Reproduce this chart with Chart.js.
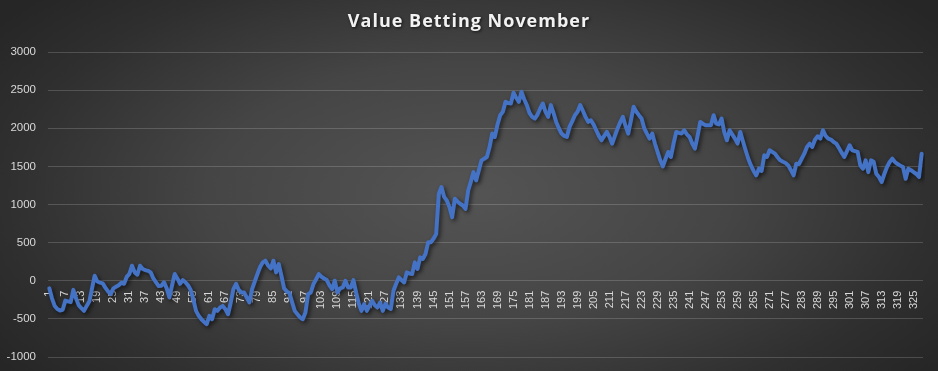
<!DOCTYPE html>
<html>
<head>
<meta charset="utf-8">
<script src="https://cdn.jsdelivr.net/npm/chart.js@4/dist/chart.umd.min.js"></script>
<style>
  html, body { margin: 0; padding: 0; }
  body {
    width: 938px; height: 371px; overflow: hidden;
    background: radial-gradient(ellipse 62% 78% at 50% 52%, #545454 0%, #454545 45%, #2f2f2f 80%, #262626 100%);
  }
  #wrap { position: relative; width: 938px; height: 371px; }
</style>
</head>
<body>
<div id="wrap"><canvas id="myChart"></canvas></div>
<script>
// bet number 1..328
const categories = Array.from({ length: 328 }, (_, i) => String(i + 1));

// running profit
const profit = [
  -100, -230, -330, -370, -390, -380, -260, -270, -280, -120,
  -230, -320, -360, -395, -330, -270, -100, 66, -10, -25,
  -35, -90, -140, -175, -100, -80, -60, -25, -40, 50,
  90, 197, 110, 80, 197, 154, 140, 130, 110, 30,
  -20, -70, -66, -20, -100, -220, -60, 88, 30, -40,
  9, -20, -60, -120, -250, -395, -460, -505, -540, -570,
  -460, -505, -373, -395, -350, -330, -373, -439, -285, -110,
  -40, -120, -154, -154, -220, -285, -110, -10, 88, 180,
  241, 263, 200, 160, 263, 110, 219, 66, -100, -140,
  -160, -280, -395, -440, -480, -505, -417, -175, -154, -44,
  20, 88, 53, 30, 9, -60, -110, 0, -154, -100,
  -88, 0, -88, -88, 9, -154, -300, -395, -307, -395,
  -329, -263, -320, -351, -285, -395, -300, -351, -370, -132,
  -40, 44, 10, -22, 110, 95, 88, 241, 154, 307,
  285, 350, 504, 504, 550, 614, 1141, 1228, 1100, 1053,
  965, 833, 1075, 1040, 1010, 987, 943, 1184, 1300, 1425,
  1316, 1450, 1579, 1600, 1623, 1750, 1930, 1886, 2050, 2171,
  2215, 2347, 2330, 2325, 2465, 2400, 2347, 2478, 2380, 2303,
  2200, 2149, 2127, 2180, 2259, 2325, 2215, 2149, 2303, 2200,
  2083, 2000, 1930, 1900, 1886, 2018, 2090, 2171, 2215, 2303,
  2230, 2149, 2083, 2105, 2050, 1974, 1900, 1842, 1900, 1952,
  1886, 1798, 1900, 1996, 2080, 2149, 2030, 1930, 2100, 2281,
  2220, 2171, 2127, 2000, 1930, 1864, 1930, 1800, 1689, 1580,
  1500, 1600, 1689, 1623, 1800, 1952, 1940, 1930, 1974, 1920,
  1886, 1800, 1733, 1900, 2083, 2060, 2040, 2040, 2040, 2171,
  2060, 2050, 2127, 1950, 1842, 1974, 1920, 1864, 1798, 1952,
  1830, 1711, 1600, 1513, 1440, 1382, 1470, 1440, 1645, 1623,
  1711, 1690, 1667, 1620, 1579, 1560, 1544, 1513, 1450, 1382,
  1535, 1530, 1600, 1667, 1755, 1798, 1755, 1850, 1895, 1864,
  1974, 1900, 1864, 1851, 1820, 1798, 1740, 1680, 1623, 1700,
  1777, 1711, 1700, 1689, 1513, 1470, 1579, 1425, 1579, 1560,
  1404, 1360, 1294, 1400, 1491, 1557, 1601, 1557, 1530, 1510,
  1491, 1338, 1470, 1450, 1425, 1400, 1360, 1667
];

const yMin = -1000;
const yMax = 3000;
const yStep = 500;
const labelEvery = 6;
const chartTitle = 'Value Betting November';

const textColor = '#d9d9d9';
const gridColor = 'rgba(255,255,255,0.17)';

// drop shadow under the line, like the excel one
const lineShadow = {
  id: 'lineShadow',
  beforeDatasetDraw(chart) {
    const c = chart.ctx;
    c.save();
    c.shadowColor = 'rgba(0,0,0,0.6)';
    c.shadowBlur = 4;
    c.shadowOffsetX = 2;
    c.shadowOffsetY = 2;
  },
  afterDatasetDraw(chart) {
    chart.ctx.restore();
  }
};

// title with letter spacing and a soft shadow
const spacedTitle = {
  id: 'spacedTitle',
  afterDraw(chart) {
    const c = chart.ctx;
    c.save();
    c.font = 'bold 18px "Open Sans"';
    c.letterSpacing = '1px';
    c.fillStyle = '#f2f2f2';
    c.textAlign = 'center';
    c.textBaseline = 'middle';
    c.shadowColor = 'rgba(0,0,0,0.7)';
    c.shadowBlur = 3;
    c.shadowOffsetX = 1;
    c.shadowOffsetY = 1;
    c.fillText(chartTitle, chart.width / 2, 22);
    c.restore();
  }
};

let myChart = document.getElementById('myChart').getContext('2d');
let lineChart = new Chart(myChart, {
  type: 'line',
  data: {
    labels: categories,
    datasets: [{
      label: 'Profit',
      data: profit,
      borderColor: '#4472c4',
      borderWidth: 4,
      pointRadius: 0,
      tension: 0,
      borderJoinStyle: 'round',
      borderCapStyle: 'round'
    }]
  },
  options: {
    responsive: true,
    maintainAspectRatio: false,
    animation: false,
    layout: { padding: { left: 0, right: 15, top: 52, bottom: 14 } },
    plugins: {
      legend: { display: false },
      tooltip: { enabled: false },
      title: { display: false }
    },
    scales: {
      x: {
        type: 'category',
        position: { y: 0 },
        offset: true,
        grid: { display: false },
        border: { display: false },
        ticks: {
          color: textColor,
          font: { family: 'Liberation Sans', size: 11 },
          autoSkip: false,
          minRotation: 90,
          maxRotation: 90,
          padding: 2,
          callback: (v, i) => (i % labelEvery === 0 ? categories[i] : null)
        },
        afterFit: (s) => { s.height = 0; }
      },
      y: {
        min: yMin,
        max: yMax,
        // invisible tick marks keep the labels off the plot without adding vertical padding
        grid: { color: gridColor, drawTicks: true, tickLength: 12, tickColor: 'rgba(0,0,0,0)' },
        border: { display: false },
        ticks: {
          stepSize: yStep,
          color: textColor,
          font: { family: 'Liberation Sans', size: 11.5 },
          padding: 0,
          callback: (v) => String(v)
        },
        afterFit: (s) => { s.width = 48; }
      }
    }
  },
  plugins: [lineShadow, spacedTitle]
});
</script>
</body>
</html>
